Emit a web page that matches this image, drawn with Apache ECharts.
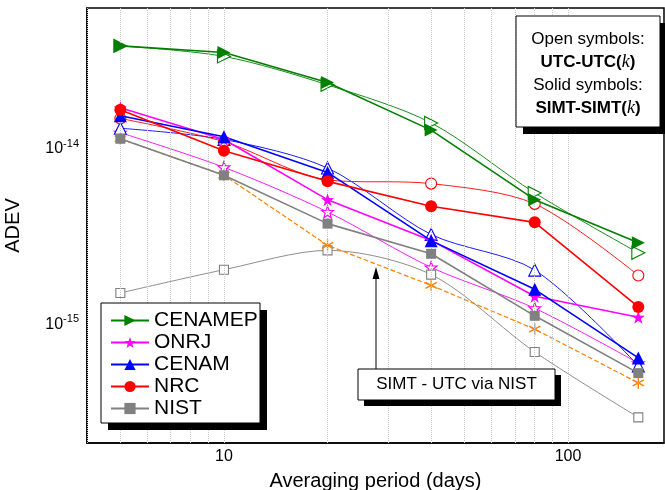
<!DOCTYPE html>
<html>
<head>
<meta charset="utf-8">
<script src="https://cdn.jsdelivr.net/npm/echarts@6/dist/echarts.min.js"></script>
<style>html,body{margin:0;padding:0;background:#fff}#chart{width:665px;height:490px}</style>
</head>
<body>
<div id="chart"></div>
<script>
"use strict";
// averaging periods (days)
var periods = [5, 10, 20, 40, 80, 160];

// solid symbols: SIMT-SIMT(k)
var cenamepSolid = [3.65e-14, 3.35e-14, 2.26e-14, 1.21e-14, 4.86e-15, 2.76e-15];
var onrjSolid    = [1.62e-14, 1.07e-14, 4.86e-15, 2.85e-15, 1.37e-15, 1.04e-15];
var cenamSolid   = [1.46e-14, 1.11e-14, 6.95e-15, 2.84e-15, 1.50e-15, 6.1e-16];
var nrcSolid     = [1.58e-14, 9.24e-15, 6.18e-15, 4.46e-15, 3.61e-15, 1.19e-15];
var nistSolid    = [1.08e-14, 6.69e-15, 3.55e-15, 2.39e-15, 1.06e-15, 5.0e-16];

// open symbols: UTC-UTC(k)
var cenamepOpen = [3.65e-14, 3.18e-14, 2.19e-14, 1.33e-14, 5.31e-15, 2.42e-15];
var onrjOpen    = [1.17e-14, 7.43e-15, 4.14e-15, 2.0e-15, 1.17e-15, 5.7e-16];
var cenamOpen   = [1.24e-14, 1.07e-14, 7.36e-15, 3.08e-15, 1.93e-15, 5.5e-16];
var nrcOpen     = [1.41e-14, 1.04e-14, 6.3e-15, 6.0e-15, 4.6e-15, 1.80e-15];
var nistOpen    = [1.43e-15, 1.94e-15, 2.5e-15, 1.82e-15, 6.6e-16, 2.8e-16];

// SIMT - UTC via NIST
var simtUtcNist = [1.08e-14, 6.7e-15, 2.67e-15, 1.58e-15, 8.9e-16, 4.4e-16];

// grid line positions
var xGrid = [4, 5, 6, 7, 8, 9, 10, 20, 30, 40, 50, 60, 70, 80, 90, 100];
var yGrid = [2e-16, 3e-16, 4e-16, 5e-16, 6e-16, 7e-16, 8e-16, 9e-16,
             1e-15, 2e-15, 3e-15, 4e-15, 5e-15, 6e-15, 7e-15, 8e-15, 9e-15,
             1e-14, 2e-14, 3e-14, 4e-14, 5e-14];

function starPath() {
    var p = [];
    for (var i = 0; i < 10; i++) {
        var r = i % 2 ? 4 : 10;
        var a = Math.PI / 5 * i - Math.PI / 2;
        p.push((r * Math.cos(a)).toFixed(2) + ',' + (r * Math.sin(a)).toFixed(2));
    }
    return 'path://M' + p.join('L') + 'Z';
}
var star = starPath();
var asterisk = 'path://M-1,-10L1,-10L1,10L-1,10Z' +
    'M8.16,5.87L9.16,4.13L-8.16,-5.87L-9.16,-4.13Z' +
    'M-9.16,4.13L-8.16,5.87L9.16,-4.13L8.16,-5.87Z';

function pairs(vals) {
    return periods.map(function (p, i) { return [p, vals[i]]; });
}

function solid(name, vals, color, symbol, size, rot) {
    return {
        name: name, type: 'line', data: pairs(vals), symbol: symbol,
        symbolSize: size, symbolRotate: rot || 0, z: 5,
        lineStyle: {color: color, width: 1.6},
        itemStyle: {color: color}
    };
}
function open(name, vals, color, symbol, size, rot) {
    return {
        name: name, type: 'line', data: pairs(vals), symbol: symbol,
        symbolSize: size, symbolRotate: rot || 0, smooth: 0.3, z: 4,
        lineStyle: {color: color, width: 0.9},
        itemStyle: {color: '#fff', borderColor: color, borderWidth: 1.1}
    };
}

function isPow10(v) {
    var l = Math.log10(v);
    return Math.abs(l - Math.round(l)) < 1e-6;
}

var gridLines = [];
xGrid.forEach(function (v) { gridLines.push({xAxis: v}); });
yGrid.forEach(function (v) { gridLines.push({yAxis: v}); });

var chart = echarts.init(document.getElementById('chart'));
var option = {
    animation: false,
    grid: {left: 87, right: 1, top: 8, bottom: 47, show: true, outerBoundsMode: 'none',
           containLabel: false, borderColor: '#000', borderWidth: 1.5},
    xAxis: {
        type: 'log', min: 4, max: 190,
        name: 'Averaging period (days)', nameLocation: 'middle', nameGap: 28,
        nameTextStyle: {fontFamily: 'Liberation Sans', fontSize: 20, color: '#000'},
        axisLine: {lineStyle: {color: '#000', width: 1.5}},
        axisTick: {show: false}, splitLine: {show: false},
        axisLabel: {fontFamily: 'Liberation Sans', fontSize: 16, color: '#000', margin: 6,
            formatter: function (v) { return isPow10(v) ? String(Math.round(v)) : ''; }}
    },
    yAxis: {
        type: 'log', min: 2e-16, max: 6e-14,
        name: 'ADEV', nameLocation: 'middle', nameGap: 64,
        nameTextStyle: {fontFamily: 'Liberation Sans', fontSize: 20, color: '#000'},
        axisLine: {lineStyle: {color: '#000', width: 1.5}},
        axisTick: {show: false}, splitLine: {show: false},
        axisLabel: {fontFamily: 'Liberation Sans', color: '#000', margin: 8,
            formatter: function (v) {
                return isPow10(v) ? '{b|10}{s|' + Math.round(Math.log10(v)) + '}' : '';
            },
            rich: {b: {fontSize: 16, fontFamily: 'Liberation Sans', padding: [8, 0, 0, 0]},
                   s: {fontSize: 11, fontFamily: 'Liberation Sans', padding: [0, 0, 2, 0]}}}
    },
    legend: {
        orient: 'vertical', left: 104, top: 306, itemGap: 1,
        padding: [4, 6, 4, 6], itemWidth: 38, itemHeight: 14, z: 110,
        textStyle: {fontFamily: 'Liberation Sans', fontSize: 21, color: '#000'},
        data: ['CENAMEP', 'ONRJ', 'CENAM', 'NRC', 'NIST']
    },
    series: [
        {type: 'line', data: [], silent: true, z: 1,
         markLine: {silent: true, symbol: 'none', label: {show: false},
             lineStyle: {color: '#c8c8c8', type: 'dotted', width: 1},
             data: gridLines}},
        open('CENAMEP open', cenamepOpen, '#008000', 'triangle', 13, -90),
        open('ONRJ open', onrjOpen, '#ff00ff', star, 12),
        open('CENAM open', cenamOpen, '#0000ff', 'triangle', 12),
        open('NRC open', nrcOpen, '#ff0000', 'circle', 11),
        open('NIST open', nistOpen, '#808080', 'rect', 9),
        {name: 'SIMT-UTC via NIST', type: 'line', data: pairs(simtUtcNist),
         symbol: asterisk, symbolSize: 12, z: 4,
         lineStyle: {color: '#ff8000', width: 1.2, type: 'dashed'},
         itemStyle: {color: '#ff8000'}},
        solid('CENAMEP', cenamepSolid, '#008000', 'triangle', 13, -90),
        solid('ONRJ', onrjSolid, '#ff00ff', star, 13),
        solid('CENAM', cenamSolid, '#0000ff', 'triangle', 13),
        solid('NRC', nrcSolid, '#ff0000', 'circle', 12),
        solid('NIST', nistSolid, '#808080', 'rect', 10)
    ],
    graphic: [
        {type: 'rect', shape: {x: 108, y: 310, width: 159, height: 120}, style: {fill: '#000'}, z: 100},
        {type: 'rect', shape: {x: 101, y: 303, width: 159, height: 120},
         style: {fill: '#fff', stroke: '#000', lineWidth: 1}, z: 101},
        {type: 'rect', shape: {x: 523, y: 23, width: 144, height: 111}, style: {fill: '#000'}, z: 100},
        {type: 'rect', shape: {x: 516, y: 16, width: 144, height: 111},
         style: {fill: '#fff', stroke: '#000', lineWidth: 1}, z: 101},
        {type: 'text', x: 588, y: 28, z: 102,
         style: {text: '{n|Open symbols:}\n{b|UTC-UTC(}{i|k}{b|)}\n{n|Solid symbols:}\n{b|SIMT-SIMT(}{i|k}{b|)}',
             align: 'center', lineHeight: 23, fill: '#000',
             rich: {n: {fontFamily: 'Liberation Sans', fontSize: 17, lineHeight: 23, align: 'center'},
                    b: {fontFamily: 'Liberation Sans', fontSize: 17, fontWeight: 'bold', lineHeight: 23},
                    i: {fontFamily: 'Liberation Serif', fontSize: 18, fontStyle: 'italic', lineHeight: 23}}}},
        {type: 'rect', shape: {x: 364, y: 375, width: 197, height: 31}, style: {fill: '#000'}, z: 100},
        {type: 'rect', shape: {x: 358, y: 369, width: 197, height: 31},
         style: {fill: '#fff', stroke: '#000', lineWidth: 1}, z: 101},
        {type: 'text', x: 456.5, y: 384.5, z: 102,
         style: {text: 'SIMT - UTC via NIST', align: 'center', verticalAlign: 'middle',
             fontFamily: 'Liberation Sans', fontSize: 17, fill: '#000'}},
        {type: 'line', shape: {x1: 376, y1: 369, x2: 376, y2: 276}, z: 102,
         style: {stroke: '#000', lineWidth: 1}},
        {type: 'polygon', shape: {points: [[376, 267], [372.5, 279], [379.5, 279]]}, z: 102,
         style: {fill: '#000'}}
    ]
};
chart.setOption(option);
</script>
</body>
</html>
